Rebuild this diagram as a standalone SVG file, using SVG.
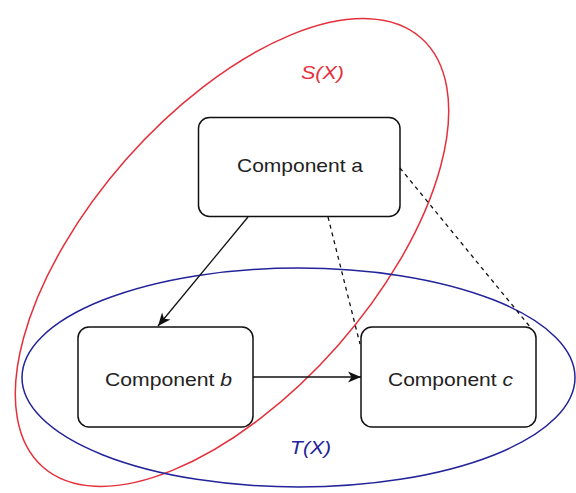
<svg xmlns="http://www.w3.org/2000/svg" width="576" height="493" viewBox="0 0 576 493">
  <style>
    .node rect { fill: #ffffff; stroke: #111111; stroke-width: 1.5; }
    .lbl { font-family: "Liberation Sans", Arial, sans-serif; font-size: 18.5px; fill: #222222; text-anchor: middle; }
    .set { fill: none; stroke-width: 1.5; }
    .edge { fill: none; stroke: #111111; stroke-width: 1.3; }
    .dash { stroke-dasharray: 4 4; }
  </style>
  <defs>
    <marker id="arrow" markerUnits="userSpaceOnUse" markerWidth="16" markerHeight="14" viewBox="-13 -7 15 14" refX="0" refY="0" orient="auto">
      <path d="M0,0 L-13,-5.5 L-9.5,0 L-13,5.5 Z" fill="#111111"/>
    </marker>
  </defs>
  <rect width="576" height="493" fill="#ffffff"/>

  <g id="set-S">
    <ellipse class="set" cx="232" cy="252.5" rx="286" ry="141" transform="rotate(-48.6 232 252.5)" stroke="#e5303b"/>
    <text class="lbl" x="322.5" y="79" font-style="italic" fill="#e5303b" textLength="43" lengthAdjust="spacingAndGlyphs" style="fill:#e5303b">S(X)</text>
  </g>
  <g id="set-T">
    <ellipse class="set" cx="298.5" cy="377.5" rx="276.5" ry="109.5" stroke="#23239a"/>
    <text class="lbl" x="310.5" y="454" font-style="italic" textLength="41" lengthAdjust="spacingAndGlyphs" style="fill:#23239a">T(X)</text>
  </g>

  <g id="node-a" class="node">
    <rect x="198.5" y="117.5" width="201.5" height="99" rx="11"/>
    <text class="lbl" x="300" y="172" textLength="126" lengthAdjust="spacingAndGlyphs">Component a</text>
  </g>
  <g id="node-b" class="node">
    <rect x="78" y="327" width="175" height="100" rx="11"/>
    <text class="lbl" x="168.5" y="386" textLength="127" lengthAdjust="spacingAndGlyphs">Component <tspan font-style="italic">b</tspan></text>
  </g>
  <g id="node-c" class="node">
    <rect x="361" y="327" width="175" height="100" rx="11"/>
    <text class="lbl" x="450.5" y="386" textLength="125" lengthAdjust="spacingAndGlyphs">Component <tspan font-style="italic">c</tspan></text>
  </g>

  <g id="connectors">
    <line class="edge" x1="248" y1="217" x2="158" y2="326" marker-end="url(#arrow)"/>
    <line class="edge" x1="253" y1="377" x2="361" y2="377" marker-end="url(#arrow)"/>
    <line class="edge dash" x1="328" y1="217" x2="360" y2="344"/>
    <line class="edge dash" x1="400" y1="168" x2="531" y2="328"/>
  </g>
</svg>
